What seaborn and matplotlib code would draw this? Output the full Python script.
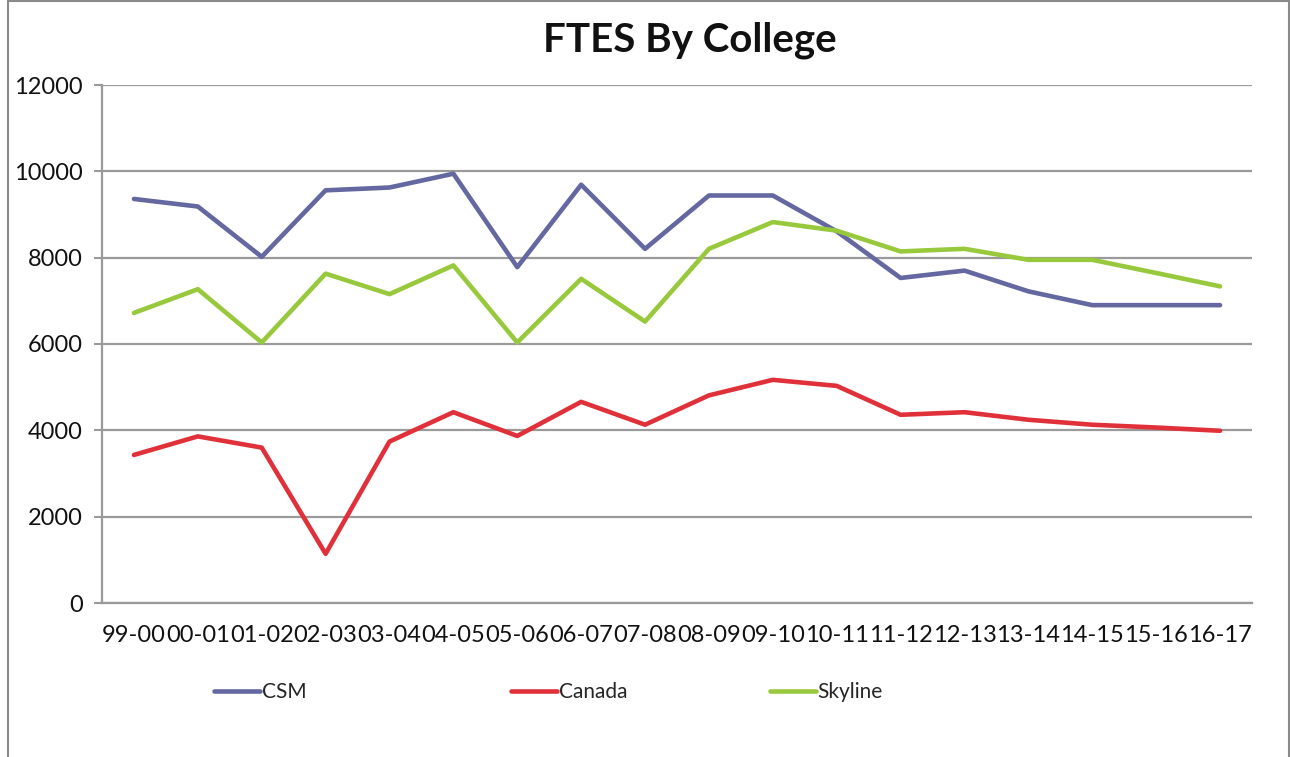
import pandas as pd
import matplotlib.pyplot as plt
import seaborn as sns
from matplotlib.patches import Rectangle
from matplotlib.lines import Line2D

# Data
years = ["99-00", "00-01", "01-02", "02-03", "03-04", "04-05", "05-06", "06-07", "07-08",
         "08-09", "09-10", "10-11", "11-12", "12-13", "13-14", "14-15", "15-16", "16-17"]
csm = [9360, 9185, 8020, 9560, 9625, 9945, 7780, 9690, 8205,
       9440, 9440, 8610, 7530, 7700, 7220, 6900, 6900, 6900]
canada = [3430, 3860, 3600, 1140, 3740, 4420, 3870, 4660, 4130,
          4810, 5170, 5030, 4360, 4420, 4245, 4130, 4065, 3990]
skyline = [6720, 7270, 6035, 7630, 7155, 7820, 6035, 7510, 6520,
           8205, 8825, 8625, 8145, 8205, 7950, 7950, 7645, 7335]

colleges = ["CSM", "Canada", "Skyline"]
colors = {"CSM": "#6467A0", "Canada": "#E0313A", "Skyline": "#98C93C"}

rows = []
for name, vals in zip(colleges, [csm, canada, skyline]):
    for i, v in enumerate(vals):
        rows.append({"idx": i, "year": years[i], "college": name, "ftes": v})
df = pd.DataFrame(rows)

sns.set_style("white")
plt.rcParams["font.family"] = ["Lato", "DejaVu Sans"]

fig = plt.figure(figsize=(12.9, 7.57), dpi=100)
ax = fig.add_axes([102 / 1290, 1 - 603 / 757, 1150 / 1290, 518 / 757])

sns.lineplot(data=df, x="idx", y="ftes", hue="college", hue_order=colleges,
             palette=colors, linewidth=3.3, ax=ax, legend=False, sort=False)

grid_c = "#9A9A9A"
ax.set_xlim(-0.5, len(years) - 0.5)
ax.set_ylim(0, 12000)
ax.set_yticks(range(0, 12001, 2000))
ax.yaxis.grid(True, color=grid_c, linewidth=1.6)
ax.set_axisbelow(True)

# category labels at centres, tick marks on the boundaries
ax.set_xticks(range(len(years)))
ax.set_xticklabels(years)
ax.set_xticks([i - 0.5 for i in range(len(years) + 1)], minor=True)
ax.tick_params(axis="x", which="major", length=0, labelsize=17, pad=16, colors="#111111")
ax.tick_params(axis="x", which="minor", length=6, width=1.5, color=grid_c)
ax.tick_params(axis="y", length=6, width=1.5, color=grid_c, labelsize=17, pad=8,
               labelcolor="#111111", left=True)

for s in ["top", "right"]:
    ax.spines[s].set_visible(False)
for s in ["left", "bottom"]:
    ax.spines[s].set_color(grid_c)
    ax.spines[s].set_linewidth(1.6)

ax.set_xlabel("")
ax.set_ylabel("")

fig.text(0.535, 1 - 40 / 757, "FTES By College", ha="center", va="center",
         fontsize=29, fontweight="bold", color="#111111")

# Excel-style legend: one entry per fixed-width slot
for name, x0 in zip(colleges, [195, 492, 751]):
    leg = fig.legend([Line2D([0], [0], color=colors[name], linewidth=3.3)], [name],
                     loc="center left", bbox_to_anchor=(x0 / 1290, 1 - 692 / 757),
                     frameon=False, fontsize=15, handlelength=2.2, handletextpad=0.1)

# outer chart frame
fig.patches.append(Rectangle((8 / 1290, -0.01), 1 - 9 / 1290, 1.0085, transform=fig.transFigure,
                             fill=False, edgecolor="#8A8A8A", linewidth=1.5))

fig.savefig("out.png", dpi=100)
